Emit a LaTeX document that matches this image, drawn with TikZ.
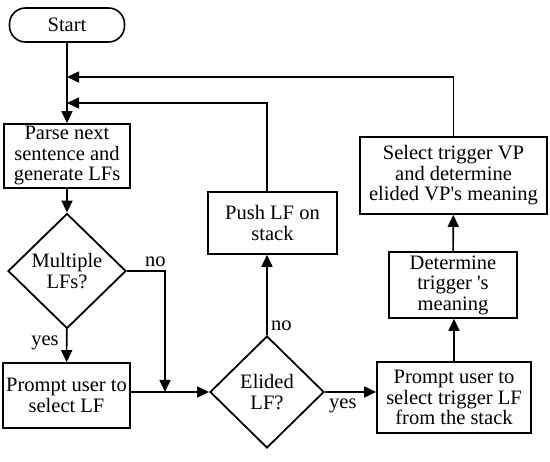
\documentclass[tikz,border=0pt]{standalone}
\usepackage{fontspec}
\setmainfont{Liberation Serif}
\usetikzlibrary{positioning}
\usetikzlibrary{shapes.geometric,arrows.meta}

\tikzset{
  txt/.style={font=\fontsize{20.5}{20.5}\selectfont},
  box/.style={txt,draw,line width=1.6pt,rectangle,inner sep=0pt,align=center},
  choice/.style={txt,draw,line width=1.8pt,diamond,aspect=1,inner sep=0pt,align=center},
  arr/.style={line width=1.6pt,-{Triangle[length=12pt,width=11pt]}}
}

\begin{document}
\begin{tikzpicture}[x=1pt,y=-1pt]
\useasboundingbox (0,0) rectangle (550,462);

\node[box,rounded corners=16pt,minimum width=115pt,minimum height=34pt] (start) at (67,25) {Start};
\node[box,minimum width=126pt,minimum height=64pt] (parse) at (67,156) {Parse next\\sentence and\\generate LFs};
\node[choice,minimum width=118pt,minimum height=115pt] (multi) at (67,271) {Multiple\\LFs?};
\node[box,minimum width=127pt,minimum height=65pt] (prompt) at (66.5,395.5) {Prompt user to\\select LF};
\node[choice,minimum width=114pt,minimum height=112pt] (elided) at (267,392) {Elided\\LF?};
\node[box,minimum width=129pt,minimum height=62pt] (push) at (272.5,223) {Push LF on\\stack};
\node[box,minimum width=154pt,minimum height=71pt] (trig) at (454,397.5) {Prompt user to\\select trigger LF\\from the stack};
\node[box,minimum width=128pt,minimum height=66pt] (det) at (453,285) {Determine\\trigger \textquotesingle s\\meaning};
\node[box,minimum width=187pt,minimum height=77pt] (sel) at (453.5,175.5) {Select trigger VP\\and determine\\elided VP\textquotesingle s meaning};

\coordinate (back1) at (67,77);
\coordinate (back2) at (67,103);
\coordinate (join) at (165,392);

% main line
\draw[arr] (start) -- (parse);
\draw[arr] (parse) -- (multi);
\draw[arr] (multi) -- node[txt,left,pos=0.4,xshift=-4pt] {yes} (prompt);
\draw[arr] (multi.east) -- node[txt,above,pos=0.75] {no} (multi.east -| join) -- (join);
\draw[arr] (prompt.east |- elided.west) -- (elided.west);

% elided?
\draw[arr] (elided.north) -- node[txt,right,pos=0.12] {no} (elided.north |- push.south);
\draw[arr] (elided.east) -- node[txt,below,pos=0.35,yshift=-3pt] {yes} (trig.west |- elided.east);
\draw[arr] (elided.north |- push.north) |- (back2);

% resolution
\draw[arr] (trig.north) -- (trig.north |- det.south);
\draw[arr] (det) -- (sel);
\draw[arr] (sel.north) |- (back1);
\end{tikzpicture}
\end{document}
